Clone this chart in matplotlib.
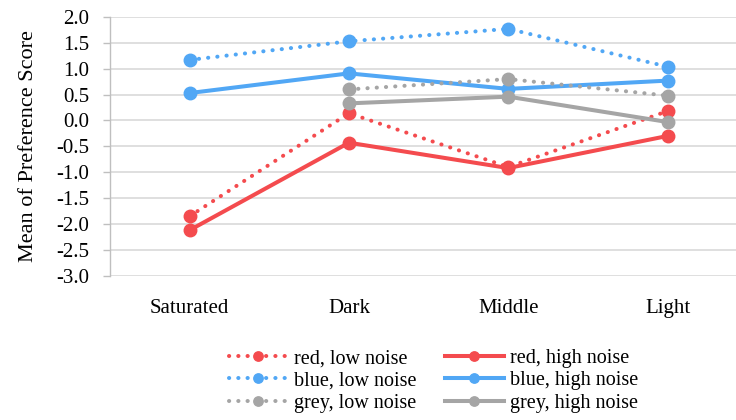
import matplotlib
matplotlib.use("Agg")
import matplotlib.pyplot as plt
import numpy as np

categories = ["Saturated", "Dark", "Middle", "Light"]
red_low = [-1.85, 0.14, -0.90, 0.18]
red_high = [-2.12, -0.43, -0.92, -0.30]
blue_low = [1.17, 1.53, 1.77, 1.04]
blue_high = [0.53, 0.91, 0.61, 0.77]
grey_low = [np.nan, 0.60, 0.80, 0.48]
grey_high = [np.nan, 0.33, 0.46, -0.03]
yticks = [2.0, 1.5, 1.0, 0.5, 0.0, -0.5, -1.0, -1.5, -2.0, -2.5, -3.0]

RED = "#F44B4E"
BLUE = "#51A7F5"
GREY = "#A5A5A5"

plt.rcParams['font.family'] = ['Liberation Serif', 'DejaVu Serif']

fig = plt.figure(figsize=(7.36, 4.2), dpi=100)
ax = fig.add_axes([0.1495, 0.3436, 0.8505, 0.616])

x = np.arange(len(categories))
dot = (0, (0.05, 2.25))
lw = 2.9
ms = 9
kw_dot = dict(lw=lw, ls=dot, dash_capstyle='round', marker='o', ms=ms)
kw_sol = dict(lw=lw, marker='o', ms=ms)
h_rl, = ax.plot(x, red_low, color=RED, label="red, low noise", **kw_dot)
h_rh, = ax.plot(x, red_high, color=RED, label="red, high noise", **kw_sol)
h_bl, = ax.plot(x, blue_low, color=BLUE, label="blue, low noise", **kw_dot)
h_bh, = ax.plot(x, blue_high, color=BLUE, label="blue, high noise", **kw_sol)
h_gl, = ax.plot(x, grey_low, color=GREY, label="grey, low noise", **kw_dot)
h_gh, = ax.plot(x, grey_high, color=GREY, label="grey, high noise", **kw_sol)

ax.set_xlim(-0.5, 3.43)
ax.set_ylim(-3.0, 2.0)
ax.set_yticks(yticks)
ax.set_yticklabels([f"{v:.1f}" for v in yticks], fontsize=15)
ax.set_xticks(x)
ax.set_xticklabels(categories, fontsize=15)
ax.tick_params(axis='x', length=0, pad=17)
ax.tick_params(axis='y', length=5, color='#BFBFBF', width=1, pad=10)
ax.yaxis.grid(True, color='#D9D9D9', lw=1.2)
ax.set_axisbelow(True)
for s in ['top', 'right', 'bottom']:
    ax.spines[s].set_visible(False)
ax.spines['left'].set_color('#BFBFBF')
ax.spines['left'].set_linewidth(1)
ax.set_ylabel("Mean of Preference Score", fontsize=16, labelpad=13)

handles = [h_rl, h_bl, h_gl, h_rh, h_bh, h_gh]
leg = fig.legend(handles=handles, labels=[h.get_label() for h in handles], ncol=2,
                 loc='center', bbox_to_anchor=(0.589, 0.093), frameon=False,
                 fontsize=14.5, handlelength=2.9, handletextpad=0.3, columnspacing=1.45,
                 labelspacing=0.15, markerscale=0.75)

fig.savefig("out.png", dpi=100)
